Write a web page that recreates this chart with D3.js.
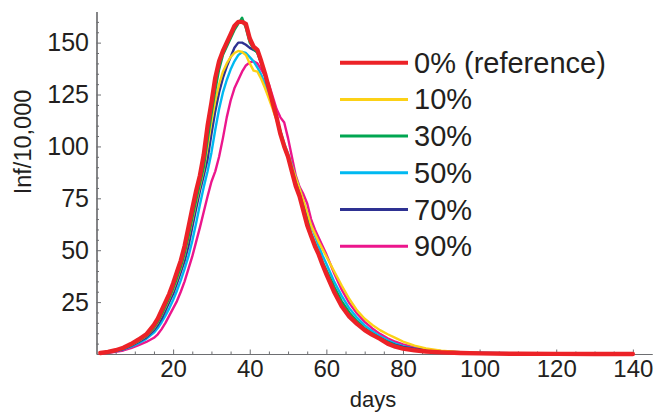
<!DOCTYPE html>
<html>
<head>
<meta charset="utf-8">
<script src="https://cdn.jsdelivr.net/npm/d3@7"></script>
<style>
  html, body { margin: 0; padding: 0; background: #fff; }
  svg { display: block; font-family: "Liberation Sans", Arial, Helvetica, sans-serif; }
</style>
</head>
<body>
<svg id="chart" width="656" height="414"></svg>
<script>
const days = [1,3,5,7,9,11,13,
  15,16,17,18,19,20,21,22,23,24,25,26,27,28,29,30,31,32,33,34,35,36,37,38,39,40,
  41,42,43,44,45,46,47,48,49,50,51,52,53,54,55,56,57,58,59,60,
  62,64,66,68,70,72,74,76,78,80,
  83,86,90,95,100,110,120,130,140];

const seriesNames = ["0% (reference)", "10%", "30%", "50%", "70%", "90%"];

const red0 = [0.5,1.0,1.8,3.0,4.8,7.0,9.5,
  14,17,21,25,29,34,39.5,45,52,61,
  70,78.5,86,96,110,121,133,141,146,150,
  154,158,160,160,159,152,148,146.5,141,135,
  128,121,114,106,100,95,88,81,76,69,
  62,57,52,48,43,38.5,
  30,23,18,14.5,11.5,9.2,7.3,5,3.5,2.6,
  1.8,1.2,0.8,0.5,0.3,0.1,0.05,0.02,0];

const yellow10 = [0.5,0.9,1.6,2.7,4.3,6.3,8.7,
  12.5,15.3,18.8,22.7,26.7,31,36,41.5,48,56,
  64.5,73,81,89,100,112,122,130,136,140,
  143,145,146,145.5,144,140,136.5,136,132.5,128,
  123,118,112.5,106.5,101,96,90.5,85,79.5,74,
  68,62,58,54,50.5,47,
  40,33,26.5,21,17,14,11.5,9.5,7.8,6,
  4,2.7,1.6,0.9,0.5,0.2,0.08,0.03,0];

const green30 = [0.5,0.9,1.6,2.7,4.3,6.4,8.8,
  12.7,15.5,19,23,27,31.5,36.5,42,48.5,56.5,
  65.5,74,82,90,103,115.5,127,137,144,148,
  152,156,159,162,157,150,147,145,140,134,
  127.5,121,114,107,100.5,95,89,82.5,77,71,
  64.5,58,53.5,49,44.5,40.5,
  32.5,25.5,20,15.8,12.4,9.8,7.7,5.8,4.2,3.1,
  2.1,1.4,0.9,0.5,0.3,0.1,0.05,0.02,0];

const cyan50 = [0.4,0.7,1.3,2.2,3.5,5.2,7.3,
  10.3,12.5,15.3,18.5,22,26,30.5,35.5,41,47,
  54.5,63,72,80.5,88,97,108,118,126,132,
  137,141,144,145.5,145,143,141,138,134.5,130,
  124.5,119,113,107.5,101.5,96.5,91,85,79.5,73.5,
  67.5,62,57,52,47.5,43.5,
  35,28,22,17.5,13.8,11,8.6,6.6,5,3.8,
  2.6,1.8,1.1,0.6,0.35,0.12,0.05,0.02,0];

const blue70 = [0.4,0.8,1.4,2.4,3.9,5.8,8.0,
  11.5,14,17,21,25,29,34,39.5,45,52,
  61,70,78.5,86,94,106,117,126,133,138.5,
  143,147.5,150,150,149,147.5,146.5,145.5,140,134,
  127,120.5,113.5,106,100,94.5,88,81,76,69,
  62.5,57,52,48,43.5,39,
  30.5,23.5,18.5,15,12,9.6,7.7,5.8,4.4,3.4,
  2.6,2.0,1.4,0.9,0.6,0.3,0.15,0.08,0.03];

const magenta90 = [0.3,0.6,1.0,1.7,2.8,4.3,5.8,
  7.8,9.5,12,15,18.5,22,25.5,30,35,41,
  47,54,61,68.5,76,83,88,95,104,114,
  122,128,132,136,139,140.5,141,140,137,134,
  130,124,118,114,111.5,104,95,86,80.5,77,
  72.5,65,60,56,52,48,
  39,31,24.5,19.5,15.5,12.3,9.7,7.6,5.9,4.6,
  3.2,2.2,1.4,0.8,0.4,0.15,0.06,0.02,0];

const seriesValues = [red0, yellow10, green30, cyan50, blue70, magenta90];
const seriesColors = ["#ec2227", "#fcd116", "#00a651", "#00b9f1", "#2e3192", "#ec168c"];
const seriesWidths = [4.4, 2.4, 2.4, 2.4, 2.4, 2.4];
const legendWidths = [4, 3, 3, 3, 3, 3];
const drawOrder = [5, 3, 4, 1, 2, 0];

const yMajorTicks = [25, 50, 75, 100, 125, 150];
const xMajorTicks = [20, 40, 60, 80, 100, 120, 140];

const svg = d3.select("#chart");
const textColor = "#231f20";
const axisColor = "#6d6e71";

const x = d3.scaleLinear().domain([0, 145]).range([96.5, 652]);
const y = d3.scaleLinear().domain([0, 165]).range([354, 11.5]);

// minor ticks
const yMinor = d3.range(5, 165, 5).filter(v => !yMajorTicks.includes(v));
const xMinor = d3.range(5, 145, 5).filter(v => !xMajorTicks.includes(v));

const gy = svg.append("g").attr("transform", `translate(${x(0)},0)`);
gy.call(d3.axisLeft(y).tickValues(yMinor).tickSize(-2.5).tickSizeOuter(0).tickFormat(""));
const gyMaj = svg.append("g").attr("transform", `translate(${x(0)},0)`);
gyMaj.call(d3.axisLeft(y).tickValues(yMajorTicks).tickSize(-4.5).tickSizeOuter(0).tickPadding(7.5));
gyMaj.selectAll(".tick text").attr("fill", textColor).attr("font-size", 25).attr("font-family", "Liberation Sans, Arial, sans-serif");
[gy, gyMaj].forEach(g => { g.select(".domain").attr("stroke", axisColor).attr("stroke-width", 1.2); g.selectAll(".tick line").attr("stroke", axisColor); });

const gx = svg.append("g").attr("transform", `translate(0,${y(0)})`);
gx.call(d3.axisBottom(x).tickValues(xMinor).tickSize(-2.5).tickSizeOuter(0).tickFormat(""));
const gxMaj = svg.append("g").attr("transform", `translate(0,${y(0)})`);
gxMaj.call(d3.axisBottom(x).tickValues(xMajorTicks).tickSize(-4.5).tickSizeOuter(0).tickPadding(6));
gxMaj.selectAll(".tick text").attr("fill", textColor).attr("font-size", 24).attr("font-family", "Liberation Sans, Arial, sans-serif");
[gx, gxMaj].forEach(g => { g.select(".domain").attr("stroke", axisColor).attr("stroke-width", 1.2); g.selectAll(".tick line").attr("stroke", axisColor); });

// axis titles
svg.append("text")
  .attr("transform", `translate(31,142) rotate(-90)`)
  .attr("text-anchor", "middle")
  .attr("fill", textColor)
  .attr("font-size", 23.5)
  .text("Inf/10,000");

svg.append("text")
  .attr("x", 373)
  .attr("y", 407)
  .attr("text-anchor", "middle")
  .attr("fill", textColor)
  .attr("font-size", 22)
  .text("days");

// lines
const line = d3.line()
  .x((d, i) => x(days[i]))
  .y(d => y(d));

const linesG = svg.append("g");
drawOrder.forEach(k => {
  linesG.append("path")
    .datum(seriesValues[k])
    .attr("fill", "none")
    .attr("stroke", seriesColors[k])
    .attr("stroke-width", seriesWidths[k])
    .attr("stroke-linejoin", "round")
    .attr("stroke-linecap", "round")
    .attr("d", line);
});

// legend
const legendG = svg.append("g");
seriesNames.forEach((name, i) => {
  const ly = 62.7 + i * 36.7;
  legendG.append("line")
    .attr("x1", 340).attr("x2", 408)
    .attr("y1", ly).attr("y2", ly)
    .attr("stroke", seriesColors[i])
    .attr("stroke-width", legendWidths[i]);
  legendG.append("text")
    .attr("x", 414)
    .attr("y", ly + 10)
    .attr("fill", textColor)
    .attr("font-size", 29)
    .text(name);
});
</script>
</body>
</html>
